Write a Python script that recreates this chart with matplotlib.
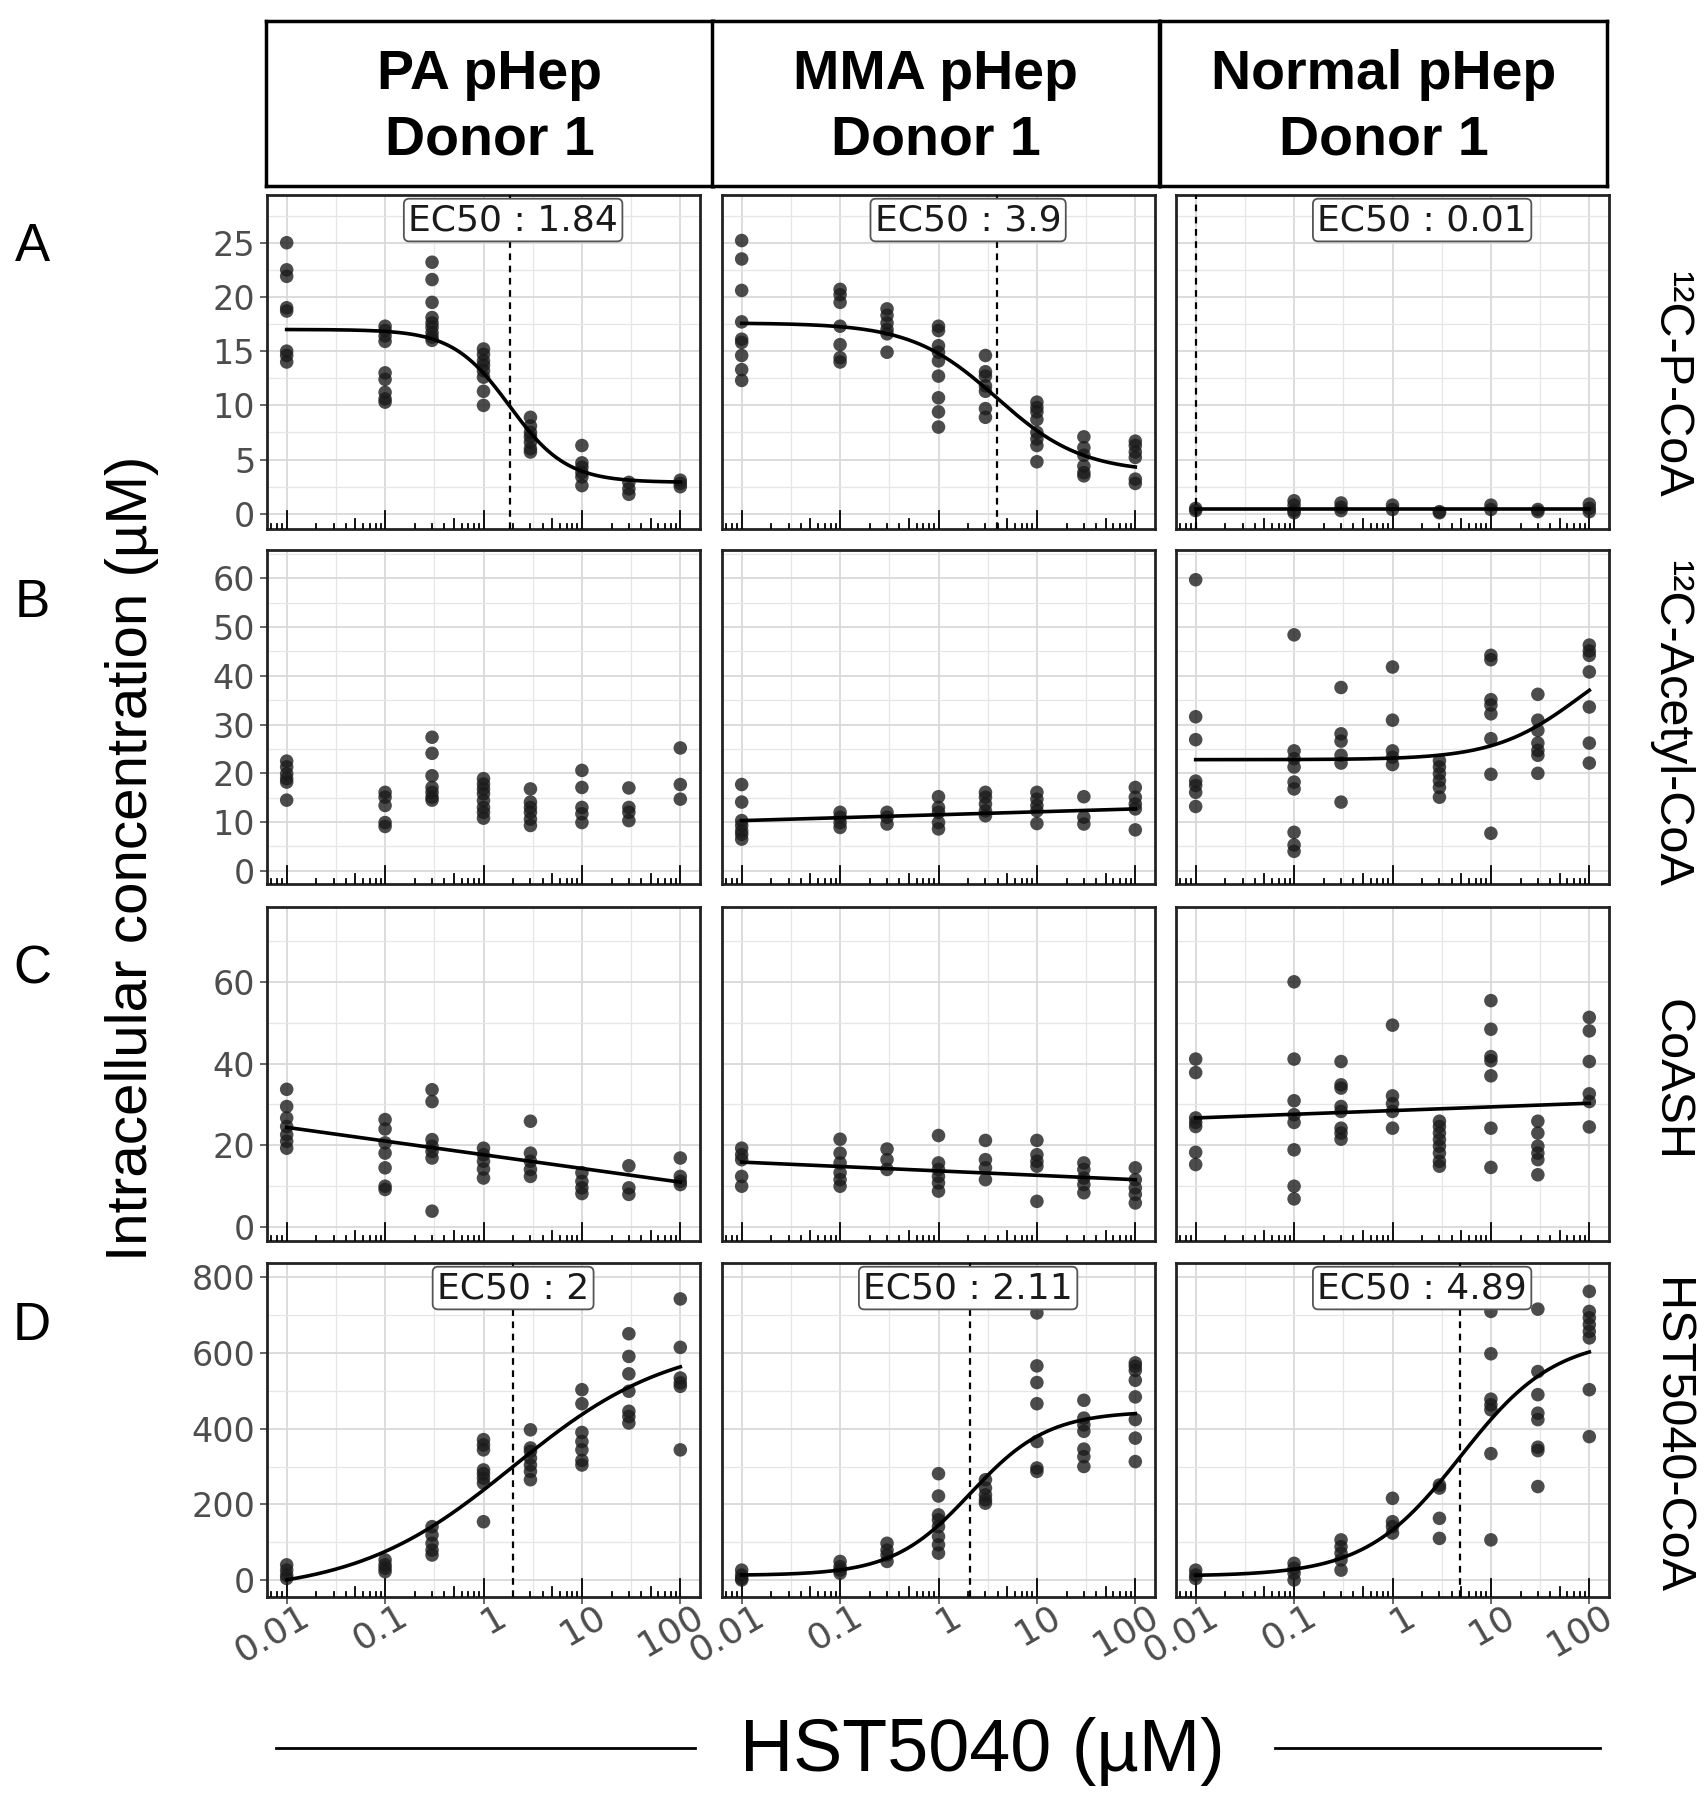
import numpy as np
import matplotlib
matplotlib.use('Agg')
import matplotlib.pyplot as plt
import matplotlib.transforms as mtrans
from matplotlib.ticker import FixedLocator, NullFormatter

# concentrations of HST5040 (uM)
conc = [0.01, 0.1, 0.3, 1, 3, 10, 30, 100]

# row A: 12C-P-CoA, one list per concentration
pa_pcoa = [[25.0, 22.5, 21.9, 19.0, 18.7, 15.0, 14.6, 14.0],
           [17.3, 16.9, 16.4, 15.9, 13.0, 12.4, 11.2, 10.6, 10.3],
           [23.2, 21.6, 19.5, 18.1, 17.6, 17.2, 16.7, 16.3, 16.0],
           [15.2, 14.7, 14.1, 13.7, 13.2, 12.6, 11.3, 10.0],
           [8.9, 8.1, 7.5, 7.1, 6.6, 6.0, 5.7],
           [6.3, 4.7, 4.3, 3.8, 3.4, 2.6],
           [2.9, 2.3, 1.8],
           [3.1, 2.8, 2.5]]
mma_pcoa = [[25.2, 23.5, 20.6, 17.7, 16.1, 15.8, 14.6, 13.3, 12.3],
            [20.7, 20.2, 19.5, 17.3, 15.6, 14.4, 14.0],
            [18.9, 18.3, 17.6, 17.0, 16.6, 14.9],
            [17.3, 16.9, 15.5, 14.9, 14.1, 12.7, 10.7, 9.4, 8.0],
            [14.6, 13.1, 12.7, 11.8, 11.3, 9.7, 8.9],
            [10.3, 9.8, 9.4, 8.7, 7.5, 6.9, 6.3, 4.8],
            [7.1, 6.1, 5.4, 4.4, 3.8, 3.5],
            [6.7, 6.3, 5.7, 5.2, 3.2, 2.8]]
norm_pcoa = [[0.5, 0.3], [1.2, 0.8, 0.3, 0.1], [1.0, 0.6, 0.3], [0.8, 0.4],
             [0.2, 0.1], [0.8, 0.4], [0.4, 0.2], [0.9, 0.5, 0.2]]

# row B: 12C-Acetyl-CoA
pa_acoa = [[22.5, 21.3, 19.9, 18.9, 18.2, 14.5],
           [16.1, 15.1, 13.4, 9.9, 9.1],
           [27.4, 24.1, 19.5, 17.1, 16.1, 15.1, 14.5],
           [18.9, 17.8, 16.8, 15.8, 14.4, 13.0, 12.0, 10.8],
           [16.8, 14.1, 13.0, 12.0, 10.6, 9.3],
           [20.6, 17.1, 13.0, 11.7, 9.9],
           [17.0, 13.0, 12.0, 10.3],
           [25.2, 17.7, 14.7]]
mma_acoa = [[17.7, 14.1, 10.3, 9.3, 8.2, 7.5, 6.5],
            [12.0, 11.0, 9.9, 8.9],
            [12.0, 11.0, 9.6],
            [15.2, 13.0, 12.0, 9.9, 8.6],
            [16.1, 15.1, 13.7, 12.3, 11.3],
            [16.1, 14.7, 13.4, 12.3, 9.7],
            [15.2, 11.0, 9.6],
            [17.1, 15.1, 13.7, 12.7, 8.4]]
norm_acoa = [[59.7, 31.6, 26.9, 18.4, 17.5, 16.1, 13.2],
             [48.4, 24.6, 23.0, 21.3, 18.2, 16.8, 7.9, 5.3, 4.0],
             [37.6, 28.1, 26.6, 23.7, 22.1, 14.1],
             [41.8, 30.9, 24.6, 23.3, 21.8],
             [22.6, 21.3, 19.9, 18.5, 17.1, 15.1],
             [44.2, 43.3, 35.1, 34.0, 32.2, 27.1, 19.8, 7.7],
             [36.2, 30.9, 28.8, 26.2, 24.7, 23.7, 20.0],
             [46.3, 45.1, 44.2, 40.8, 33.6, 26.2, 22.1]]

# row C: CoASH
pa_coash = [[33.7, 29.5, 26.7, 24.6, 22.6, 21.0, 19.3],
            [26.3, 24.0, 20.6, 18.1, 14.5, 10.0, 9.2],
            [33.6, 30.7, 21.4, 19.8, 18.5, 16.9, 3.9],
            [19.3, 17.7, 16.1, 14.2, 12.0],
            [25.9, 18.1, 16.1, 14.1, 12.4],
            [13.3, 11.2, 9.6, 8.2],
            [15.0, 9.6, 8.0],
            [16.9, 12.4, 11.2, 10.4]]
mma_coash = [[19.3, 17.7, 16.5, 12.4, 10.0],
             [21.5, 18.1, 15.7, 13.3, 11.6, 10.0],
             [19.1, 16.5, 14.1],
             [22.4, 15.7, 14.1, 12.4, 10.8, 8.8],
             [21.2, 16.5, 14.5, 11.6],
             [21.2, 17.7, 16.1, 14.9, 6.3],
             [15.7, 14.1, 12.0, 10.4, 8.4],
             [14.5, 11.6, 9.6, 8.0, 5.9]]
norm_coash = [[41.1, 37.8, 26.7, 25.6, 24.6, 18.3, 15.3],
              [60.0, 41.1, 30.9, 27.5, 25.6, 18.9, 10.0, 6.9],
              [40.5, 34.8, 34.0, 29.5, 28.3, 24.2, 23.0, 21.5],
              [49.4, 32.1, 30.2, 28.3, 24.2],
              [25.9, 24.6, 23.0, 21.4, 19.8, 18.1, 16.1, 14.9],
              [55.4, 48.4, 41.7, 40.7, 37.0, 24.2, 14.6],
              [25.9, 23.0, 19.8, 18.1, 16.5, 12.8],
              [51.3, 48.0, 40.5, 32.6, 30.7, 24.5]]

# row D: HST5040-CoA
pa_hcoa = [[40, 26, 13, 4],
           [53, 40, 31, 22],
           [141, 119, 97, 79, 66],
           [371, 357, 344, 291, 281, 269, 256, 154],
           [397, 349, 340, 322, 304, 287, 265],
           [503, 466, 390, 366, 344, 316, 304],
           [651, 591, 545, 499, 446, 432, 415],
           [743, 615, 534, 521, 512, 344]]
mma_hcoa = [[26, 13, 4, 0],
            [49, 35, 26, 18],
            [97, 79, 66, 49],
            [281, 222, 172, 159, 141, 115, 93, 71],
            [265, 243, 225, 212, 203],
            [706, 566, 522, 466, 366, 296, 287],
            [475, 428, 410, 393, 346, 326, 300],
            [574, 565, 554, 528, 484, 424, 375, 313]]
norm_hcoa = [[26, 13, 4],
             [44, 31, 18, 0],
             [106, 88, 71, 53, 26],
             [216, 154, 141, 124],
             [251, 243, 163, 110],
             [710, 598, 478, 463, 450, 334, 106],
             [716, 551, 490, 441, 424, 351, 342, 247],
             [763, 710, 693, 675, 657, 640, 503, 379]]

# fitted curves: ('ll4', c, d, e, b) -> c + (d - c) / (1 + (x/e)^b)
# or ('lin', y at 0.01, y at 100)
fit_pcoa = [('ll4', 2.9, 17.0, 1.84, 1.5), ('ll4', 3.8, 17.6, 3.9, 1.0), ('lin', 0.46, 0.46)]
fit_acoa = [None, ('lin', 10.3, 12.7), ('ll4', 22.8, 48.4, 80, -1.0)]
fit_coash = [('lin', 24.4, 11.0), ('lin', 15.9, 11.6), ('lin', 26.7, 30.3)]
fit_hcoa = [('ll4', -36, 636, 2.0, -0.54), ('ll4', 12, 446, 2.11, -1.1), ('ll4', 10, 642, 4.89, -0.9)]

ec50_pcoa = [1.84, 3.9, 0.01]
ec50_hcoa = [2, 2.11, 4.89]

columns = ['PA pHep\nDonor 1', 'MMA pHep\nDonor 1', 'Normal pHep\nDonor 1']
rows = ['¹²C-P-CoA', '¹²C-Acetyl-CoA', 'CoASH', 'HST5040-CoA']
row_letters = ['A', 'B', 'C', 'D']
row_ticks = [[0, 5, 10, 15, 20, 25], [0, 10, 20, 30, 40, 50, 60], [0, 20, 40, 60],
             [0, 200, 400, 600, 800]]
row_ylim = [(-1.4, 29.4), (-2.7, 65.8), (-3.4, 78.3), (-45, 838)]
x_ticks = [0.01, 0.1, 1, 10, 100]
x_labels = ['0.01', '0.1', '1', '10', '100']

data = [[pa_pcoa, mma_pcoa, norm_pcoa], [pa_acoa, mma_acoa, norm_acoa],
        [pa_coash, mma_coash, norm_coash], [pa_hcoa, mma_hcoa, norm_hcoa]]
fits = [fit_pcoa, fit_acoa, fit_coash, fit_hcoa]
ec50s = [ec50_pcoa, None, None, ec50_hcoa]

W, H = 1704, 1800
fig = plt.figure(figsize=(W / 100, H / 100), dpi=100)
big = ['Liberation Sans', 'DejaVu Sans']


def fx(px):
    return px / W


def fy(py):
    return 1 - py / H


col_left = [267, 722, 1176]
col_w = 433
row_top = [195, 550, 907, 1263]
row_h = 334
grey = '#4D4D4D'
xs = np.logspace(-2, 2, 300)
shift = mtrans.ScaledTranslation(0.12, 0.10, fig.dpi_scale_trans)

for r in range(4):
    for c in range(3):
        ax = fig.add_axes([fx(col_left[c]), fy(row_top[r] + row_h), col_w / W, row_h / H])
        ax.set_xscale('log')
        ax.set_xlim(10 ** -2.2, 10 ** 2.2)
        ax.set_ylim(*row_ylim[r])
        yt = row_ticks[r]
        step = yt[1] - yt[0]
        ax.yaxis.set_major_locator(FixedLocator(yt))
        ax.yaxis.set_minor_locator(FixedLocator([v + step / 2 for v in [yt[0] - step] + yt]))
        ax.xaxis.set_major_locator(FixedLocator(x_ticks))
        ax.xaxis.set_minor_locator(FixedLocator([10 ** (k + 0.5) for k in range(-3, 3)]))
        ax.xaxis.set_minor_formatter(NullFormatter())
        ax.yaxis.set_minor_formatter(NullFormatter())
        ax.grid(which='major', color='#D9D9D9', lw=1.3, zorder=0)
        ax.grid(which='minor', color='#E6E6E6', lw=0.9, zorder=0)
        ax.set_axisbelow(True)
        ax.tick_params(which='minor', length=0)
        ax.tick_params(which='major', color=grey, width=1.2, length=5,
                       labelsize=24, labelcolor=grey)
        if c == 0:
            ax.set_yticklabels([str(v) for v in yt])
        else:
            ax.tick_params(axis='y', length=0, labelleft=False)
        if r == 3:
            ax.set_xticklabels(x_labels, rotation=30, ha='right', va='top',
                               rotation_mode='anchor', fontsize=26)
            for lab in ax.get_xticklabels():
                lab.set_transform(lab.get_transform() + shift)
        else:
            ax.tick_params(axis='x', length=0, labelbottom=False)
        for sp in ax.spines.values():
            sp.set_color('#222222')
            sp.set_linewidth(2.0)

        # log ticks inside the bottom of each panel
        trans = ax.get_xaxis_transform()
        for k in range(-3, 3):
            for m in range(1, 10):
                v = m * 10.0 ** k
                if v < 10 ** -2.2 or v > 10 ** 2.2:
                    continue
                ln = 0.054 if m == 1 else (0.03 if m == 5 else 0.015)
                ax.plot([v, v], [0, ln], transform=trans, color='black', lw=1.3, zorder=3)

        # points
        vals = data[r][c]
        for xv, ys in zip(conc, vals):
            ax.scatter([xv] * len(ys), ys, s=95, color='#1A1A1A', alpha=0.78,
                       edgecolors='none', zorder=4)

        # fitted curve
        f = fits[r][c]
        if f is not None:
            if f[0] == 'll4':
                _, cc, dd, ee, bb = f
                ax.plot(xs, cc + (dd - cc) / (1 + (xs / ee) ** bb), color='black', lw=2.6, zorder=5)
            else:
                ax.plot([conc[0], conc[-1]], [f[1], f[2]], color='black', lw=2.6, zorder=5)

        # EC50 marker and label
        if ec50s[r] is not None:
            e = ec50s[r][c]
            ax.axvline(e, color='black', ls=(0, (3, 2.5)), lw=1.6, zorder=5)
            ax.text(2.0, 0.925, 'EC50 : %s' % e, transform=trans, ha='center', va='center',
                    fontsize=26, color='#1A1A1A', zorder=7,
                    bbox=dict(boxstyle='round,pad=0.12,rounding_size=0.15', fc='white',
                              ec='#555555', lw=1.3))

        if c == 2:
            off = 22 if r == 0 else 6
            fig.text(fx(1671), fy(row_top[r] + row_h / 2 + off), rows[r], rotation=-90,
                     ha='center', va='center', fontsize=35, family=big)
    fig.text(fx(32), fy([247, 603, 970, 1326][r]), row_letters[r], ha='center', va='center',
             fontsize=38, family=big)

# column strips
strip_left = [266, 712, 1160]
for c in range(3):
    sx = fig.add_axes([fx(strip_left[c]), fy(186), 447 / W, 165 / H])
    sx.set_xticks([])
    sx.set_yticks([])
    for sp in sx.spines.values():
        sp.set_linewidth(2.5)
        sp.set_color('black')
    sx.text(0.5, 0.475, columns[c], ha='center', va='center', fontsize=40,
            fontweight='bold', family=big, linespacing=1.35, transform=sx.transAxes)

fig.text(fx(132), fy(858), 'Intracellular concentration (µM)', rotation=90,
         ha='center', va='center', fontsize=42, family=big)
fig.text(fx(982), fy(1752), 'HST5040 (µM)', ha='center', va='center', fontsize=53, family=big)
fig.add_artist(plt.Line2D([fx(276), fx(695)], [fy(1748), fy(1748)], color='black', lw=2))
fig.add_artist(plt.Line2D([fx(1275), fx(1600)], [fy(1748), fy(1748)], color='black', lw=2))

fig.savefig('out.png', dpi=100)
